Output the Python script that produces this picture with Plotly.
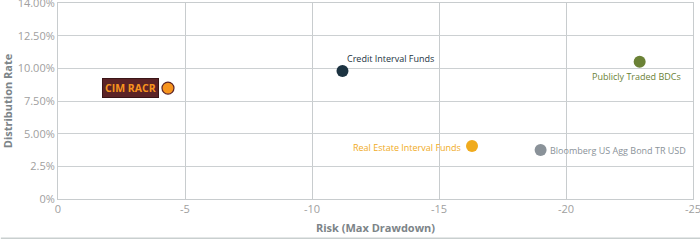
import plotly.graph_objects as go

names = ["CIM RACR", "Credit Interval Funds", "Publicly Traded BDCs", "Real Estate Interval Funds", "Bloomberg US Agg Bond TR USD"]
risk = [-4.33, -11.2, -22.9, -16.3, -19.0]
dist_rate = [8.49, 9.8, 10.5, 4.05, 3.75]
colors = ["#F7941D", "#1C3341", "#6B8236", "#F0AB1E", "#8A9299"]
y_tickvals = [0, 2.5, 5, 7.5, 10, 12.5, 15]
y_ticktext = ["0%", "2.5%", "5.00%", "7.50%", "10.00%", "12.50%", "14.00%"]
x_tickvals = [0, -5, -10, -15, -20, -25]

fig = go.Figure()
fig.add_trace(go.Scatter(
    x=risk, y=dist_rate, mode="markers",
    marker=dict(size=12, color=colors,
                line=dict(width=[1.2, 0, 0, 0, 0], color="#5B2326")),
    hoverinfo="skip", showlegend=False))

label_style = [
    dict(xanchor="right", xshift=-9, yshift=0, bold=True, size=10.5,
         bgcolor="#5B2326", bordercolor="#3a1517", fontcolor="#F7941D"),
    dict(xanchor="left", xshift=3, yshift=12, bold=False, size=9,
         bgcolor=None, bordercolor=None, fontcolor="#1C3341"),
    dict(xanchor="center", xshift=-3, yshift=-15, bold=False, size=9,
         bgcolor=None, bordercolor=None, fontcolor="#6B8236"),
    dict(xanchor="right", xshift=-9, yshift=-1, bold=False, size=9,
         bgcolor=None, bordercolor=None, fontcolor="#F0AB1E"),
    dict(xanchor="left", xshift=7, yshift=0, bold=False, size=9,
         bgcolor=None, bordercolor=None, fontcolor="#8A9299"),
]
for n, xv, yv, st in zip(names, risk, dist_rate, label_style):
    txt = f"<b>{n}</b>" if st["bold"] else n
    ann = dict(x=xv, y=yv, text=txt, showarrow=False,
               xanchor=st["xanchor"], yanchor="middle",
               xshift=st["xshift"], yshift=st["yshift"],
               font=dict(family="Open Sans", size=st["size"], color=st["fontcolor"]))
    if st["bgcolor"]:
        ann.update(bgcolor=st["bgcolor"], bordercolor=st["bordercolor"],
                   borderwidth=1, borderpad=2)
    fig.add_annotation(**ann)

fig.add_shape(type="line", xref="paper", yref="paper", x0=-0.09, x1=1.02,
              y0=-0.2, y1=-0.2, line=dict(color="#C9CFCF", width=1.5))

fig.update_layout(
    width=700, height=244,
    margin=dict(l=58, r=7, t=3, b=45, autoexpand=False),
    paper_bgcolor="white", plot_bgcolor="white",
    font=dict(family="Open Sans", color="#9A9A9A"),
    xaxis=dict(range=[0, -25], tickvals=x_tickvals, ticktext=[str(v) for v in x_tickvals],
               showgrid=True, gridcolor="#C8CCCE", gridwidth=1, automargin=False,
               showline=True, linecolor="#C8CCCE", linewidth=1, mirror=True,
               zeroline=False, ticks="", ticklabeloverflow="allow",
               tickfont=dict(size=11, color="#A0A0A0"),
               title=dict(text="<b>Risk (Max Drawdown)</b>", standoff=9,
                          font=dict(size=11, color="#7C8488"))),
    yaxis=dict(range=[0, 15], tickvals=y_tickvals, ticktext=y_ticktext,
               showgrid=True, gridcolor="#CCD0D2", gridwidth=1, automargin=False,
               showline=True, linecolor="#C8CCCE", linewidth=1, mirror=True,
               zeroline=False, ticks="", ticklabeloverflow="allow",
               tickfont=dict(size=11, color="#A0A0A0"),
               title=dict(text="<b>Distribution Rate</b>", standoff=4,
                          font=dict(size=11, color="#7C8488"))),
)

fig.write_html("out.html")
